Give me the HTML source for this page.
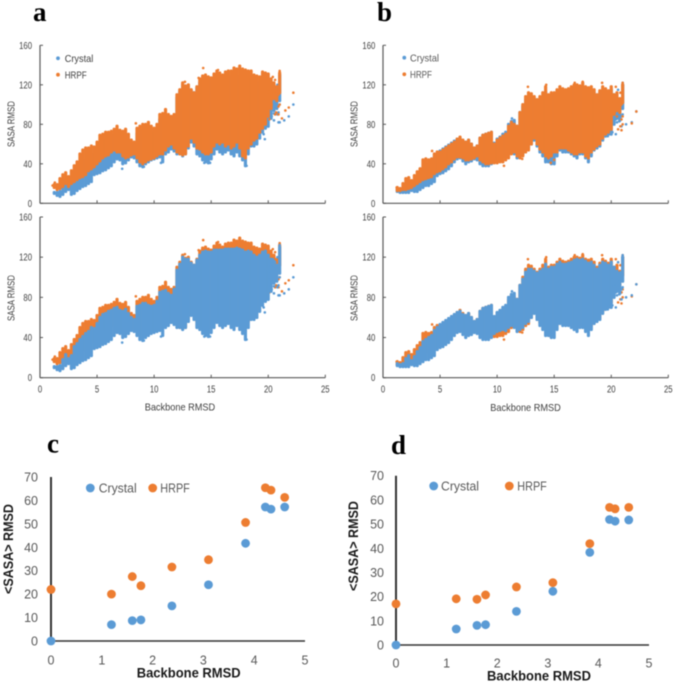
<!DOCTYPE html>
<html>
<head>
<meta charset="utf-8">
<title>Backbone RMSD vs SASA RMSD</title>
<style>
html,body{margin:0;padding:0;background:#fff;}
svg{display:block;filter:blur(0.45px);}
text{font-family:"Liberation Sans",sans-serif;}
.letter{font-family:"Liberation Serif",serif;font-weight:bold;font-size:27px;fill:#000;}
.small{font-size:10px;fill:#404040;}
.leg-s{font-size:10.5px;fill:#404040;}
.leg-l{font-size:12.5px;fill:#595959;}
.big-title{font-size:13.5px;font-weight:bold;fill:#1a1a1a;}
</style>
</head>
<body>
<svg id="fig" width="675" height="683" viewBox="0 0 675 683" xmlns="http://www.w3.org/2000/svg">
<rect width="675" height="683" fill="#fff"/>
<g id="layer-a1"></g>
<g id="layer-a2"></g>
<g id="layer-b1"></g>
<g id="layer-b2"></g>
<g id="layer-c"></g>
<g id="layer-d"></g>

<text class="letter" x="33" y="21">a</text>
<text class="letter" x="377" y="21">b</text>
<text class="letter" x="47" y="452.5">c</text>
<text class="letter" x="391" y="454">d</text>

<circle cx="58" cy="58.3" r="1.9" fill="#5B9BD5"/>
<text class="leg-s" x="64.7" y="62" textLength="28.6" lengthAdjust="spacingAndGlyphs">Crystal</text>
<circle cx="58" cy="74.7" r="1.9" fill="#ED7D31"/>
<text class="leg-s" x="64.7" y="78.5" textLength="22" lengthAdjust="spacingAndGlyphs">HRPF</text>
<circle cx="404.3" cy="57.7" r="1.9" fill="#5B9BD5"/>
<text class="leg-s" x="410" y="61.5" textLength="29" lengthAdjust="spacingAndGlyphs" style="fill:#595959">Crystal</text>
<circle cx="404.3" cy="74.3" r="1.9" fill="#ED7D31"/>
<text class="leg-s" x="410" y="78" textLength="22" lengthAdjust="spacingAndGlyphs" style="fill:#595959">HRPF</text>

<circle cx="90.3" cy="488" r="4.4" fill="#5B9BD5"/>
<text class="leg-l" x="98.7" y="492.5" textLength="38" lengthAdjust="spacingAndGlyphs">Crystal</text>
<circle cx="152.7" cy="488" r="4.4" fill="#ED7D31"/>
<text class="leg-l" x="160.3" y="492.5" textLength="29.5" lengthAdjust="spacingAndGlyphs">HRPF</text>
<circle cx="433.7" cy="486" r="4.4" fill="#5B9BD5"/>
<text class="leg-l" x="441" y="490.5" textLength="38" lengthAdjust="spacingAndGlyphs">Crystal</text>
<circle cx="509.3" cy="486" r="4.4" fill="#ED7D31"/>
<text class="leg-l" x="517.3" y="490.5" textLength="29.5" lengthAdjust="spacingAndGlyphs">HRPF</text>

<text class="leg-s" text-anchor="middle" transform="translate(14.5,124) rotate(-90)" textLength="46" lengthAdjust="spacingAndGlyphs">SASA RMSD</text>
<text class="leg-s" text-anchor="middle" transform="translate(14.5,298) rotate(-90)" textLength="46" lengthAdjust="spacingAndGlyphs">SASA RMSD</text>
<text class="leg-s" text-anchor="middle" transform="translate(357.5,124) rotate(-90)" textLength="46" lengthAdjust="spacingAndGlyphs">SASA RMSD</text>
<text class="leg-s" text-anchor="middle" transform="translate(357.5,298) rotate(-90)" textLength="46" lengthAdjust="spacingAndGlyphs">SASA RMSD</text>
<text class="leg-s" x="144.7" y="410.5" textLength="70.5" lengthAdjust="spacingAndGlyphs">Backbone RMSD</text>
<text class="leg-s" x="490.3" y="411" textLength="70.5" lengthAdjust="spacingAndGlyphs">Backbone RMSD</text>

<text class="big-title" x="136.7" y="677.5" textLength="104" lengthAdjust="spacingAndGlyphs">Backbone RMSD</text>
<text class="big-title" x="487" y="680.5" textLength="104" lengthAdjust="spacingAndGlyphs">Backbone RMSD</text>
<text class="big-title" text-anchor="middle" transform="translate(13,549) rotate(-90)" textLength="90" lengthAdjust="spacingAndGlyphs">&lt;SASA&gt; RMSD</text>
<text class="big-title" text-anchor="middle" transform="translate(358,546) rotate(-90)" textLength="90" lengthAdjust="spacingAndGlyphs">&lt;SASA&gt; RMSD</text>
</svg>
<script>
// Scatter clouds: per-bin envelope of the dense point clouds
const xBins = [1.25,1.5,1.75,2,2.25,2.5,2.75,3,3.25,3.5,3.75,4,4.25,4.5,4.75,5,5.25,5.5,5.75,6,6.25,6.5,6.75,7,7.25,7.5,7.75,8,8.25,8.5,8.75,9,9.25,9.5,9.75,10,10.25,10.5,10.75,11,11.25,11.5,11.75,12,12.25,12.5,12.75,13,13.25,13.5,13.75,14,14.25,14.5,14.75,15,15.25,15.5,15.75,16,16.25,16.5,16.75,17,17.25,17.5,17.75,18,18.25,18.5,18.75,19,19.25,19.5,19.75,20,20.25,20.5,20.75,21];
const aHrpfHigh = [19,19,25,29,31,27,33,38,42,50,54,56,56,58,57,62,69,70,72,72,73,75,78,74,73,75,70,64,62,76,78,80,80,82,78,76,80,90,91,95,90,88,90,110,115,122,119,120,115,112,118,126,129,130,128,127,131,134,132,130,133,134,134,137,136,139,136,135,134,134,130,129,128,133,132,131,126,122,118,132];
const aHrpfLow = [16,14,15,17,20,17,20,22,24,26,27,29,33,35,37,40,43,46,48,49,52,54,52,52,48,46,47,49,50,46,42,40,42,44,45,46,48,50,50,54,58,60,56,52,50,49,50,58,66,62,56,55,52,50,50,52,58,62,60,62,58,60,56,58,62,56,48,46,56,60,64,66,72,76,80,88,96,106,104,112];
const aCrystalHigh = [11,11,12,18,23,19,22,31,34,38,41,44,46,50,49,54,60,63,64,66,67,69,70,67,66,68,64,60,58,71,72,74,74,72,71,72,76,85,86,87,84,82,88,107,113,120,118,118,114,112,117,122,125,126,125,125,127,127,127,127,128,128,128,128,129,128,127,125,126,125,122,120,122,125,126,122,118,116,112,130];
const aCrystalLow = [10,8,7,9,12,14,9,10,13,15,17,18,20,22,29,30,31,33,34,36,38,42,45,44,40,41,44,47,46,42,38,37,40,42,44,45,46,47,42,50,52,55,53,50,50,48,50,56,62,58,50,48,44,42,41,45,50,55,52,50,52,54,50,48,52,48,44,38,50,58,58,60,66,72,76,78,86,94,96,104];
const bHrpfHigh = [16,15,20,25,26,23,28,32,35,44,45,44,45,50,52,52,54,56,58,60,62,65,67,64,62,64,60,56,58,66,69,70,71,72,60,64,66,68,70,78,82,80,78,92,100,108,112,111,108,105,108,112,118,110,112,112,115,118,116,115,116,118,120,120,119,122,118,117,118,115,110,114,118,116,114,118,110,112,106,120];
const bHrpfLow = [13,13,14,14,15,16,18,20,22,24,25,26,27,30,32,33,35,37,40,42,45,47,47,46,44,44,45,46,48,44,42,40,40,41,41,41,42,42,44,46,50,52,48,46,48,52,54,60,66,60,55,52,48,46,48,52,52,56,56,56,54,52,50,50,52,52,48,46,52,55,58,60,66,70,72,75,90,94,92,102];
const bCrystalHigh = [14,13,14,19,22,17,21,26,30,36,38,40,42,47,50,53,55,57,59,61,63,65,66,63,62,64,60,56,58,66,69,70,71,72,61,65,67,70,72,80,83,84,78,92,98,105,108,108,106,104,106,108,113,108,110,110,113,115,113,113,114,115,117,118,117,118,116,114,115,112,108,112,115,114,112,115,110,106,104,120];
const bCrystalLow = [12,11,11,11,11,13,12,12,14,16,18,18,20,22,28,30,31,33,35,38,42,45,46,43,40,42,43,45,44,40,38,38,38,40,44,46,47,48,47,50,52,50,46,48,50,54,56,60,64,58,52,48,42,42,40,40,48,54,52,52,52,50,48,46,50,50,46,42,48,54,56,58,64,68,70,70,80,86,84,96];

// Sparse points outside the dense clouds
const aCrystalPointX = [19.8,20,20.1,20.2,20.3,20.4,20.5,20.6,20.7,20.8,20.9,21,21,21,21,20.2,20.4,20.6,20.8,21,20.3,20.5,20.7,20.9,21.4,21.8,22.2,20.5,20.8,21,19.6,19.7,20,7.2,9.1,10.6,14.4,14.9,18.1];
const aCrystalPointY = [108,100,96,92,105,110,84,100,98,90,82,105,118,125,132,112,118,115,108,82,88,98,102,92,84,88,100,91,120,100,70,65,78,35,37,41,41,41,38];
const aHrpfPointX = [21,21,21,21,20.9,20.8,20.6,20.4,20.2,20,19.8,20.3,20.5,20.7,20.9,21,21.2,21.5,21.8,22.2,14.3,13.9,12.7,15.6,17.5,20.6,20.9,20.1,19.8,20.4,8.4,5.4,1.1,1.3];
const aHrpfPointY = [134,128,122,115,110,118,125,122,115,110,105,100,112,92,98,100,86,94,97,112,137,127,123,135,139,90,90,85,82,128,81,62,18,21];
const bCrystalPointX = [20,20.2,20.4,20.6,20.8,21,21,21,21,20.3,20.5,20.7,20.9,21,21.3,21.8,22.2,20.4,20.7,20.1,19.9,19.7,20.6,20.9,11.3];
const bCrystalPointY = [100,92,85,98,105,112,122,100,90,110,82,95,78,108,80,82,93,70,83,72,70,68,115,88,86];
const bHrpfPointX = [21,21,21,20.9,20.8,20.6,20.4,20.2,20,19.8,20.3,20.5,20.7,20.9,21,20.8,21,21.8,22.2,20.6,12.7,14.3,17.5,16.8,19.2,4.3,1.2,20.9,15,14.7,10.6,12.2];
const bHrpfPointY = [122,115,108,100,112,105,118,110,102,96,92,88,98,85,88,78,80,81,93,75,118,120,123,122,122,53,16,74,44,41,38,45];

// Mean-value panels
const meanX = [0,1.19,1.6,1.77,2.38,3.1,3.83,4.22,4.33,4.6];
const cCrystal = [0,7,8.7,9,15,24,41.7,57.2,56.3,57.2];
const cHrpf = [22,20,27.5,23.6,31.6,34.7,50.6,65.4,64.4,61.3];
const dCrystal = [0,6.6,8.1,8.4,13.9,22.2,38.3,51.9,51.2,51.7];
const dHrpf = [17,19.1,18.9,20.7,24,25.8,41.9,56.9,56.3,56.9];

// Tick labels
const scatterXTicks = [0,5,10,15,20,25];
const scatterYTicks = [0,40,80,120,160];
const meanXTicks = [0,1,2,3,4,5];
const meanYTicks = [0,10,20,30,40,50,60,70];

const NS = 'http://www.w3.org/2000/svg';
const BLUE = '#5B9BD5';
const ORANGE = '#ED7D31';

function linear(d0, d1, r0, r1) {
  return function (v) { return r0 + (v - d0) * (r1 - r0) / (d1 - d0); };
}
function el(tag, parent) {
  const e = document.createElementNS(NS, tag);
  parent.appendChild(e);
  return e;
}
function axisLine(g, x1, y1, x2, y2, color, w, name) {
  const l = el('line', g);
  l.setAttribute('x1', x1); l.setAttribute('y1', y1);
  l.setAttribute('x2', x2); l.setAttribute('y2', y2);
  l.setAttribute('stroke', color); l.setAttribute('stroke-width', w);
  
  
}
function tickText(g, x, y, str, anchor, cls, name, digitW) {
  const t = el('text', g);
  t.setAttribute('x', x); t.setAttribute('y', y);
  t.setAttribute('text-anchor', anchor);
  t.setAttribute('class', cls);
  if (digitW) {
    t.setAttribute('textLength', String(str).length * digitW);
    t.setAttribute('lengthAdjust', 'spacingAndGlyphs');
  }
  
  
  t.textContent = str;
}
function drawBands(g, sx, sy, low, high, color, name) {
  xBins.forEach(function (b, i) {
    const l = el('line', g);
    l.setAttribute('x1', sx(b)); l.setAttribute('x2', sx(b));
    l.setAttribute('y1', sy(low[i])); l.setAttribute('y2', sy(high[i]));
    l.setAttribute('stroke', color);
    l.setAttribute('stroke-width', 3.2);
    l.setAttribute('stroke-linecap', 'round');
    
    
  });
}
function drawPoints(g, sx, sy, xs, ys, color, r, name) {
  xs.forEach(function (v, i) {
    const c = el('circle', g);
    c.setAttribute('cx', sx(v));
    c.setAttribute('cy', sy(ys[i]));
    c.setAttribute('r', r);
    c.setAttribute('fill', color);
    
    
  });
}
function scatterPanel(id, x0, x25, y0, y160, labelRight, xLabelY, d, hrpfOnTop) {
  const g = document.getElementById(id);
  const sx = linear(0, 25, x0, x25);
  const sy = linear(0, 160, y0, y160);
  function crystal() {
    drawBands(g, sx, sy, d.cLow, d.cHigh, BLUE, 'crystal-density-band');
    drawPoints(g, sx, sy, d.cPx, d.cPy, BLUE, 1.3, 'crystal-point');
  }
  function hrpf() {
    drawBands(g, sx, sy, d.hLow, d.hHigh, ORANGE, 'hrpf-density-band');
    drawPoints(g, sx, sy, d.hPx, d.hPy, ORANGE, 1.3, 'hrpf-point');
  }
  if (hrpfOnTop) { crystal(); hrpf(); } else { hrpf(); crystal(); }
  axisLine(g, x0, y0, x0, y160, '#595959', 1.2, 'y-axis-line');
  axisLine(g, x0, y0, x25, y0, '#595959', 1.2, 'x-axis-line');
  scatterYTicks.forEach(function (t) {
    axisLine(g, x0, sy(t), x0 + 3, sy(t), '#595959', 1, 'y-tick');
    tickText(g, labelRight, sy(t) + 3.5, t, 'end', 'small', 'y-tick-label', 4.3);
  });
  scatterXTicks.forEach(function (t) {
    axisLine(g, sx(t), y0, sx(t), y0 - 3, '#595959', 1, 'x-tick');
    if (xLabelY) { tickText(g, sx(t), xLabelY, t, 'middle', 'small', 'x-tick-label', 4.3); }
  });
}
function meanPanel(id, x0, x5, y0, y70, labelRight, xLabelY, crystalVals, hrpfVals) {
  const g = document.getElementById(id);
  const sx = linear(0, 5, x0, x5);
  const sy = linear(0, 70, y0, y70);
  axisLine(g, x0, y0, x0, y70, '#333333', 2, 'y-axis-line');
  axisLine(g, x0, y0, x5, y0, '#333333', 1.5, 'x-axis-line');
  meanYTicks.forEach(function (t) {
    tickText(g, labelRight, sy(t) + 4.5, t, 'end', 'leg-l', 'y-tick-label', 0);
  });
  meanXTicks.forEach(function (t) {
    tickText(g, sx(t), xLabelY, t, 'middle', 'leg-l', 'x-tick-label', 0);
  });
  drawPoints(g, sx, sy, meanX, crystalVals, BLUE, 4.4, 'crystal-point');
  drawPoints(g, sx, sy, meanX, hrpfVals, ORANGE, 4.4, 'hrpf-point');
}

const dataA = { hLow: aHrpfLow, hHigh: aHrpfHigh, cLow: aCrystalLow, cHigh: aCrystalHigh,
  cPx: aCrystalPointX, cPy: aCrystalPointY, hPx: aHrpfPointX, hPy: aHrpfPointY };
const dataB = { hLow: bHrpfLow, hHigh: bHrpfHigh, cLow: bCrystalLow, cHigh: bCrystalHigh,
  cPx: bCrystalPointX, cPy: bCrystalPointY, hPx: bHrpfPointX, hPy: bHrpfPointY };

scatterPanel('layer-a1', 40, 325.3, 203.3, 45.3, 32, 0, dataA, true);
scatterPanel('layer-a2', 40, 325.3, 377.7, 217, 32, 392.5, dataA, false);
scatterPanel('layer-b1', 383, 668.3, 203.3, 45.3, 375.3, 0, dataB, true);
scatterPanel('layer-b2', 383, 668.3, 377.7, 217, 375.3, 392.5, dataB, false);
meanPanel('layer-c', 51, 305, 641, 477, 38, 664.5, cCrystal, cHrpf);
meanPanel('layer-d', 396, 649, 645, 475.7, 384, 667.5, dCrystal, dHrpf);
</script>
</body>
</html>
